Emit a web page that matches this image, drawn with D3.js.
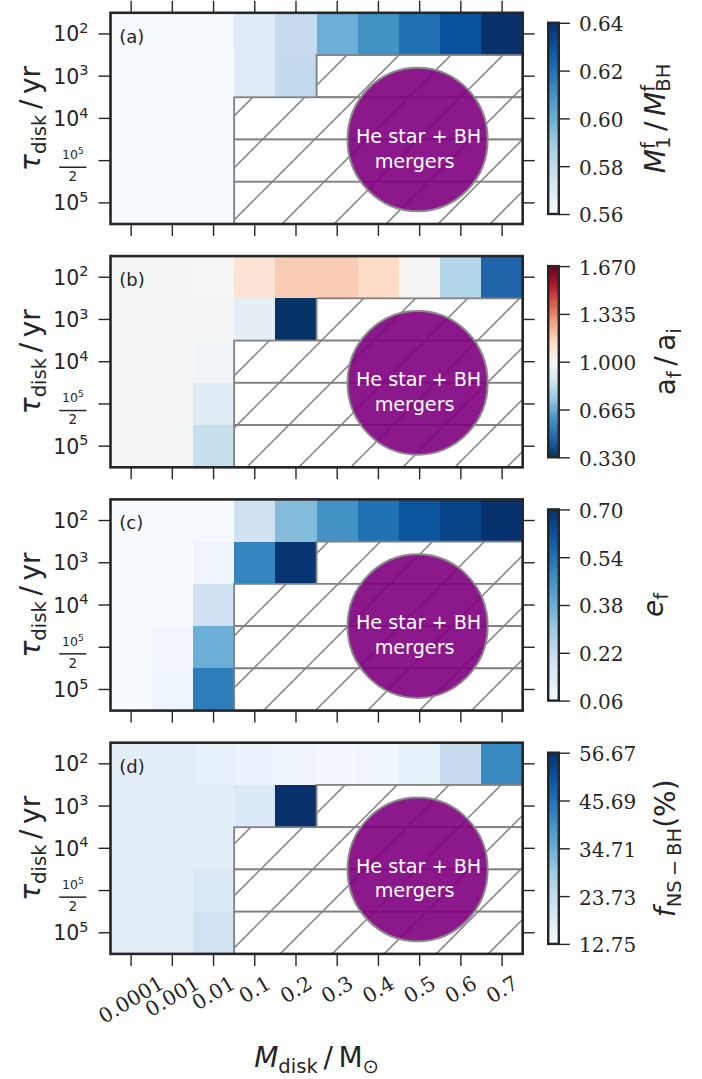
<!DOCTYPE html>
<html>
<head>
<meta charset="utf-8">
<script src="https://cdn.jsdelivr.net/npm/d3@7"></script>
<style>
  html, body { margin: 0; padding: 0; background: #ffffff; }
  svg { display: block; }
</style>
</head>
<body>
<svg id="fig" width="702" height="1079"></svg>
<script>
// ---------------- data ----------------
// Disk mass (M_sun) along x, disk lifetime (yr) along y.
const mDiskLabels = ["0.0001", "0.001", "0.01", "0.1", "0.2", "0.3", "0.4", "0.5", "0.6", "0.7"];
const tauLabels = ["10^2", "10^3", "10^4", "10^5/2", "10^5"];

// null marks parameter pairs that end as He star + BH mergers
const finalMassRatio = [
  [0.5605, 0.5605, 0.5605, 0.5695, 0.5800, 0.6000, 0.6100, 0.6200, 0.6296, 0.6400],
  [0.5605, 0.5605, 0.5605, 0.5700, 0.5805, null, null, null, null, null],
  [0.5605, 0.5605, 0.5605, null, null, null, null, null, null, null],
  [0.5605, 0.5605, 0.5605, null, null, null, null, null, null, null],
  [0.5605, 0.5605, 0.5605, null, null, null, null, null, null, null]
];
const separationRatio = [
  [0.990, 0.990, 1.005, 1.095, 1.170, 1.170, 1.135, 1.010, 0.800, 0.460],
  [0.990, 0.990, 0.990, 0.935, 0.340, null, null, null, null, null],
  [0.990, 0.990, 0.980, null, null, null, null, null, null, null],
  [0.990, 0.990, 0.920, null, null, null, null, null, null, null],
  [0.985, 0.985, 0.840, null, null, null, null, null, null, null]
];
const finalEccentricity = [
  [0.060, 0.060, 0.065, 0.190, 0.340, 0.460, 0.540, 0.610, 0.655, 0.695],
  [0.060, 0.060, 0.090, 0.495, 0.690, null, null, null, null, null],
  [0.060, 0.060, 0.190, null, null, null, null, null, null, null],
  [0.060, 0.075, 0.380, null, null, null, null, null, null, null],
  [0.060, 0.085, 0.510, null, null, null, null, null, null, null]
];
const nsbhFraction = [
  [17.1, 17.1, 16.6, 15.6, 15.0, 14.1, 14.3, 16.6, 23.3, 41.7],
  [17.1, 17.1, 17.0, 19.0, 56.67, null, null, null, null, null],
  [17.1, 17.1, 17.1, null, null, null, null, null, null, null],
  [17.1, 17.1, 18.9, null, null, null, null, null, null, null],
  [17.2, 17.2, 21.3, null, null, null, null, null, null, null]
];

// colour-bar ticks (ends are the colour limits)
const massRatioTicks = [0.56, 0.58, 0.60, 0.62, 0.64];
const separationTicks = [0.330, 0.665, 1.000, 1.335, 1.670];
const eccentricityTicks = [0.06, 0.22, 0.38, 0.54, 0.70];
const nsbhTicks = [12.75, 23.73, 34.71, 45.69, 56.67];

const panelTags = ["(a)", "(b)", "(c)", "(d)"];
const mergerText = ["He star + BH", "mergers"];

// ---------------- layout & style ----------------
const INK = "#262626";
const SANS = "'DejaVu Sans', sans-serif";
const SERIF = "'DejaVu Serif', serif";
const plotLeft = 110.5, plotRight = 522.7;
const panelTops = [12.8, 256.1, 499.4, 742.7];
const panelH = 211.2;
const cbX = 548.2, cbW = 10.6, cbInset = 10;
const TICK = 12;

const svg = d3.select("#fig");
const defs = svg.append("defs");

// diagonal hatch, anchored to the page so it runs continuously
const hatch = defs.append("pattern")
  .attr("id", "hatch")
  .attr("patternUnits", "userSpaceOnUse")
  .attr("width", 52).attr("height", 52);
hatch.append("path")
  .attr("d", "M-3,41L41,-3M35,55L55,35")
  .attr("stroke", "#808080").attr("stroke-width", 1.5).attr("fill", "none");

function rampScale(ramp, lo, hi) {
  const dom = ramp.map((_, i) => lo + (hi - lo) * i / (ramp.length - 1));
  return d3.scaleLinear().domain(dom).range(ramp).interpolate(d3.interpolateRgb).clamp(true);
}
const blues = d3.schemeBlues[9];
const rdbuR = d3.schemeRdBu[11].slice().reverse();

// math-style label builder: parts = [{t, it, pos:'base'|'sub'|'sup', dx}]
function mathLabel(textSel, parts, size) {
  let shift = 0;
  parts.forEach(p => {
    const pos = p.pos || "base";
    const fs = pos === "base" ? size : size * 0.7;
    const target = pos === "sub" ? size * 0.2 : pos === "sup" ? -size * 0.36 : 0;
    const ts = textSel.append("tspan")
      .attr("font-size", fs)
      .attr("font-style", p.it ? "italic" : "normal")
      .attr("dy", target - shift)
      .text(p.t);
    if (p.dx) ts.attr("dx", p.dx * fs);
    shift = target;
  });
}

const TS = "\u2009";
const panels = [
  { data: finalMassRatio, ticks: massRatioTicks, ramp: blues, fmt: d3.format(".2f"),
    label: [{t: "M", it: true}, {t: "f", pos: "sup"}, {t: "1", pos: "sub", dx: -0.352},
            {t: TS + "/" + TS}, {t: "M", it: true}, {t: "f", pos: "sup"}, {t: "BH", pos: "sub", dx: -0.352}] },
  { data: separationRatio, ticks: separationTicks, ramp: rdbuR, fmt: d3.format(".3f"),
    label: [{t: "a"}, {t: "f", pos: "sub"}, {t: TS + "/" + TS}, {t: "a"}, {t: "i", pos: "sub"}] },
  { data: finalEccentricity, ticks: eccentricityTicks, ramp: blues, fmt: d3.format(".2f"),
    label: [{t: "e", it: true}, {t: "f", pos: "sub"}] },
  { data: nsbhFraction, ticks: nsbhTicks, ramp: blues, fmt: d3.format(".2f"),
    label: [{t: "f", it: true}, {t: "NS\u2009\u2212\u2009BH", pos: "sub"}, {t: "(%)"}] }
];

const x = d3.scaleBand().domain(mDiskLabels).range([plotLeft, plotRight]).padding(0);

panels.forEach((P, pi) => {
  const top = panelTops[pi], bottom = top + panelH;
  const y = d3.scaleBand().domain(tauLabels).range([top, bottom]).padding(0);
  const lo = P.ticks[0], hi = P.ticks[P.ticks.length - 1];
  const color = rampScale(P.ramp, lo, hi);
  const g = svg.append("g");

  // heat-map cells
  const cells = [];
  P.data.forEach((row, i) => row.forEach((v, j) => {
    if (v != null) cells.push({ tau: tauLabels[i], m: mDiskLabels[j], v });
  }));
  g.selectAll("rect.cell").data(cells).join("rect")
    .attr("class", "cell")
    .attr("x", d => x(d.m)).attr("y", d => y(d.tau))
    .attr("width", x.bandwidth() + 0.4).attr("height", y.bandwidth() + 0.4)
    .attr("fill", d => color(d.v))
    .attr("shape-rendering", "crispEdges");

  // hatched merger region, one box per lifetime row
  const runs = [];
  P.data.forEach((row, i) => {
    let j = 0;
    while (j < row.length) {
      if (row[j] == null) {
        let k = j;
        while (k < row.length && row[k] == null) k++;
        runs.push({ tau: tauLabels[i], m0: mDiskLabels[j], m1: mDiskLabels[k - 1] });
        j = k;
      } else j++;
    }
  });
  runs.forEach(r => {
    const rx = x(r.m0), rw = x(r.m1) + x.bandwidth() - x(r.m0);
    g.append("rect").attr("x", rx).attr("y", y(r.tau)).attr("width", rw).attr("height", y.bandwidth())
      .attr("fill", "#ffffff");
    g.append("rect").attr("x", rx).attr("y", y(r.tau)).attr("width", rw).attr("height", y.bandwidth())
      .attr("fill", "url(#hatch)").attr("stroke", "#808080").attr("stroke-width", 1.8);
  });

  // merger marker in cell units
  const xc = d3.scaleLinear().domain([0, mDiskLabels.length]).range([plotLeft, plotRight]);
  const yc = d3.scaleLinear().domain([0, tauLabels.length]).range([top, bottom]);
  const cx = xc(7.45), cy = yc(3);
  g.append("ellipse")
    .attr("cx", cx).attr("cy", cy)
    .attr("rx", xc(1.7) - xc(0)).attr("ry", yc(1.7) - yc(0))
    .attr("fill", "purple").attr("fill-opacity", 0.9)
    .attr("stroke", "#8a8a8a").attr("stroke-width", 2);
  g.append("text").attr("x", cx + 1).attr("y", cy + 3.2)
    .attr("text-anchor", "middle").attr("font-family", SANS).attr("font-size", 19.2)
    .attr("fill", "#ffffff").text(mergerText[0]);
  g.append("text").attr("x", cx - 3).attr("y", cy + 28)
    .attr("text-anchor", "middle").attr("font-family", SANS).attr("font-size", 19.2)
    .attr("fill", "#ffffff").text(mergerText[1]);

  // panel tag
  g.append("text").attr("x", plotLeft + 8.8).attr("y", top + 30)
    .attr("font-family", SANS).attr("font-size", 18).attr("fill", INK).text(panelTags[pi]);

  // axes ticks
  const styleAxis = a => {
    a.select(".domain").remove();
    a.selectAll(".tick line").attr("stroke", INK).attr("stroke-width", 1.4);
  };
  g.append("g").attr("transform", `translate(0,${bottom})`)
    .call(d3.axisBottom(x).tickSize(TICK).tickFormat("")).call(styleAxis);
  if (pi === 0) {
    g.append("g").attr("transform", `translate(0,${top})`)
      .call(d3.axisTop(x).tickSize(TICK).tickFormat("")).call(styleAxis);
  }
  g.append("g").attr("transform", `translate(${plotLeft},0)`)
    .call(d3.axisLeft(y).tickSize(TICK).tickFormat("")).call(styleAxis);
  g.append("g").attr("transform", `translate(${plotRight},0)`)
    .call(d3.axisRight(y).tickSize(TICK).tickFormat("")).call(styleAxis);

  // frame
  g.append("rect").attr("x", plotLeft).attr("y", top).attr("width", plotRight - plotLeft).attr("height", panelH)
    .attr("fill", "none").attr("stroke", INK).attr("stroke-width", 2.6);

  // y tick labels: powers of ten, one as a fraction
  tauLabels.forEach(lab => {
    const yy = y(lab) + y.bandwidth() / 2;
    const m = lab.match(/^10\^(\d)(?:\/(\d))?$/);
    if (!m[2]) {
      const t = g.append("text").attr("x", 88.5).attr("y", yy + 7.5)
        .attr("text-anchor", "end").attr("font-family", SANS).attr("font-size", 20.5).attr("fill", INK);
      t.append("tspan").text("10");
      t.append("tspan").attr("dy", -8.4).attr("font-size", 14.5).text(m[1]);
    } else {
      const fx = 72.8;
      const num = g.append("text").attr("x", fx).attr("y", yy - 1.5)
        .attr("text-anchor", "middle").attr("font-family", SANS).attr("font-size", 12.5).attr("fill", INK);
      num.append("tspan").text("10");
      num.append("tspan").attr("dy", -5).attr("font-size", 9).text(m[1]);
      g.append("line").attr("x1", fx - 13.6).attr("x2", fx + 13.6).attr("y1", yy + 6.6).attr("y2", yy + 6.6)
        .attr("stroke", INK).attr("stroke-width", 1.5);
      g.append("text").attr("x", fx).attr("y", yy + 20.5)
        .attr("text-anchor", "middle").attr("font-family", SANS).attr("font-size", 13.5).attr("fill", INK)
        .text(m[2]);
    }
  });

  // y axis title
  const yt = g.append("text")
    .attr("transform", `translate(40,${top + panelH / 2}) rotate(-90)`)
    .attr("text-anchor", "middle").attr("font-family", SANS).attr("fill", INK);
  mathLabel(yt, [{t: "\u03c4", it: true}, {t: "disk", pos: "sub"}, {t: TS + "/" + TS + "yr"}], 28);

  // colour bar
  const cbTop = top + cbInset, cbBot = bottom - cbInset;
  const cbScale = d3.scaleLinear().domain([lo, hi]).range([cbBot, cbTop]);
  const gid = "cbgrad" + pi;
  const grad = defs.append("linearGradient").attr("id", gid)
    .attr("x1", 0).attr("y1", 1).attr("x2", 0).attr("y2", 0);
  d3.range(0, 1.0001, 0.02).forEach(f => {
    grad.append("stop").attr("offset", f).attr("stop-color", color(lo + (hi - lo) * f));
  });
  g.append("rect").attr("x", cbX).attr("y", cbTop).attr("width", cbW).attr("height", cbBot - cbTop)
    .attr("fill", `url(#${gid})`).attr("stroke", INK).attr("stroke-width", 2.4);
  const cbAxis = g.append("g").attr("transform", `translate(${cbX + cbW},0)`)
    .call(d3.axisRight(cbScale).tickValues(P.ticks).tickSize(11).tickFormat(""));
  cbAxis.select(".domain").remove();
  cbAxis.selectAll(".tick line").attr("stroke", INK).attr("stroke-width", 1.4);
  let labRight = 0;
  P.ticks.forEach(v => {
    const t = g.append("text").attr("x", 579).attr("y", cbScale(v) + 8.4)
      .attr("font-family", SERIF).attr("font-size", 20).attr("fill", INK).text(P.fmt(v));
    const bb = t.node().getBBox();
    labRight = Math.max(labRight, bb.x + bb.width);
  });
  const cg = g.append("g");
  const ct = cg.append("text")
    .attr("transform", `translate(0,${top + panelH / 2}) rotate(-90)`)
    .attr("text-anchor", "middle").attr("font-family", SANS).attr("fill", INK);
  mathLabel(ct, P.label, 28);
  const cbb = cg.node().getBBox();
  cg.attr("transform", `translate(${labRight + 13 - cbb.x},0)`);

  // x tick labels and title under the last panel
  if (pi === panels.length - 1) {
    mDiskLabels.forEach(m => {
      const lg = g.append("g");
      lg.append("text").attr("transform", "rotate(-31)")
        .attr("text-anchor", "middle").attr("font-family", SERIF).attr("font-size", 20.5).attr("fill", INK)
        .text(m);
      const bb = lg.node().getBBox();
      const tx = x(m) + x.bandwidth() / 2 - (bb.x + bb.width / 2);
      const ty = bottom + TICK + 5 - bb.y;
      lg.attr("transform", `translate(${tx},${ty})`);
    });
    const xt = g.append("text").attr("x", (plotLeft + plotRight) / 2).attr("y", 1067)
      .attr("text-anchor", "middle").attr("font-family", SANS).attr("fill", INK);
    mathLabel(xt, [{t: "M", it: true}, {t: "disk", pos: "sub"}, {t: TS + "/" + TS + "M"}, {t: "\u2299", pos: "sub"}], 28);
  }
});
</script>
</body>
</html>
